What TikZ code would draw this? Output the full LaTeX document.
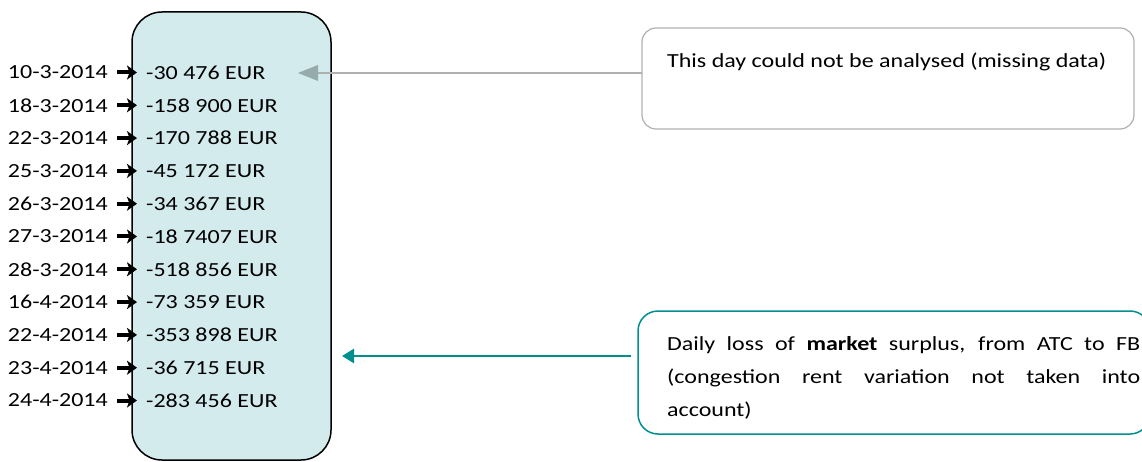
\documentclass[tikz,border=0pt]{standalone}
\usepackage{fontspec}
\setmainfont{Carlito}[FakeStretch=1.2]
\usetikzlibrary{arrows.meta,calc}
\definecolor{boxfill}{RGB}{211,235,237}
\definecolor{teal}{RGB}{0,143,143}
\definecolor{greyline}{RGB}{176,176,176}
\definecolor{greyhead}{RGB}{150,172,172}
\tikzset{
  x=1pt, y=-1pt,
  txt/.style={font=\fontsize{20}{33}\selectfont, inner sep=0pt},
  datelbl/.style={txt, anchor=east},
  amount/.style={txt, anchor=west},
  pointer/.style={line width=4pt, -{Stealth[length=10pt,width=14pt,inset=2.5pt]}},
}
\begin{document}
\begin{tikzpicture}
\useasboundingbox (0,0) rectangle (1142,462);
% central column of values
\draw[line width=1.5pt, fill=boxfill, rounded corners=30pt] (132,12) rectangle (331,460);
\foreach \d/\v [count=\i from 0] in {
  10-3-2014/-30 476 EUR, 18-3-2014/-158 900 EUR, 22-3-2014/-170 788 EUR,
  25-3-2014/-45 172 EUR, 26-3-2014/-34 367 EUR, 27-3-2014/-18 7407 EUR,
  28-3-2014/-518 856 EUR, 16-4-2014/-73 359 EUR, 22-4-2014/-353 898 EUR,
  23-4-2014/-36 715 EUR, 24-4-2014/-283 456 EUR}{
  \pgfmathsetmacro{\yy}{72.5+32.8*\i}
  \node[datelbl] (d\i) at (108,\yy) {\d};
  \node[amount] (v\i) at (146,\yy) {\v};
  \draw[pointer] ($(d\i.east)+(9,0)$) -- ($(v\i.west)+(-9,0)$);
}
% note: missing data
\draw[greyline, line width=1.2pt, rounded corners=14pt] (642,28) rectangle (1134,129);
\node[txt, anchor=west] (n1) at (667,62) {This day could not be analysed (missing data)};
\coordinate (n1l) at (642,73);
\coordinate (n1t) at (298,73);
\draw[greyline, line width=2pt] (n1l) -- (316,73);
\fill[greyhead] (n1t) -- (318,65) -- (318,81) -- cycle;
% note: market surplus
\draw[teal, line width=1.5pt, rounded corners=20pt] (638,311) rectangle (1150,434);
\node[txt, anchor=north west, text width=473pt, align=justify] (n2) at (667,336)
  {\hyphenpenalty=10000\exhyphenpenalty=10000
   Daily loss of \textbf{market} surplus, from ATC to FB\linebreak
   (congestion rent variation not taken into\linebreak
   account)};
\coordinate (n2l) at (631,356);
\coordinate (n2t) at (342,356);
\draw[teal, line width=2.5pt, -{Triangle[length=12pt,width=14pt]}] (n2l) -- (n2t);
\end{tikzpicture}
\end{document}
